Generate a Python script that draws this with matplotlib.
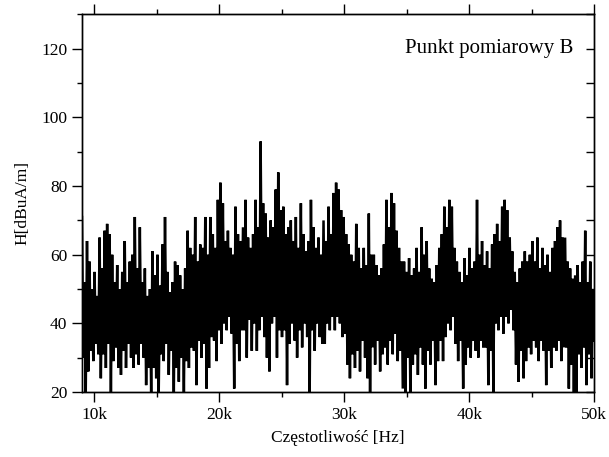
import numpy as np
import matplotlib.pyplot as plt
from matplotlib.ticker import MultipleLocator, FuncFormatter

# frequency range of the measurement [Hz]
f_start = 9000
f_stop = 50000

# local maxima and minima of the spectrum [dBuA/m],
# in order of frequency (each peak is followed by a dip)
peaks = [
    71, 52, 64, 58, 50, 55, 48, 65, 56, 67, 69, 66, 60, 52, 57, 50,
    55, 64, 52, 58, 60, 71, 56, 68, 52, 56, 48, 50, 61, 54, 60, 51,
    63, 71, 55, 49, 52, 58, 57, 54, 50, 56, 67, 62, 60, 71, 58, 63,
    62, 71, 60, 71, 66, 62, 76, 81, 75, 64, 67, 62, 60, 74, 66, 64,
    68, 76, 65, 62, 66, 76, 68, 93, 75, 72, 65, 70, 68, 79, 84, 73,
    74, 66, 68, 70, 64, 71, 62, 75, 66, 61, 64, 76, 68, 62, 65, 60,
    70, 64, 74, 66, 78, 81, 79, 73, 71, 66, 63, 60, 58, 69, 62, 56,
    62, 57, 72, 60, 60, 57, 54, 56, 63, 76, 68, 78, 75, 67, 62, 58,
    58, 55, 59, 54, 56, 62, 55, 68, 60, 64, 56, 53, 52, 57, 62, 66,
    74, 68, 76, 74, 62, 58, 55, 52, 59, 54, 62, 56, 58, 76, 60, 64,
    57, 61, 56, 63, 66, 69, 64, 74, 76, 73, 65, 61, 55, 52, 56, 58,
    61, 58, 60, 64, 58, 65, 56, 62, 57, 60, 55, 62, 64, 68, 70, 65,
    65, 58, 56, 53, 54, 57, 52, 58, 67, 52, 58, 50,
]
dips = [
    30, 20, 26, 32, 29, 34, 31, 24, 31, 27, 34, 20, 29, 33, 27, 25,
    32, 27, 34, 30, 27, 31, 28, 34, 30, 22, 27, 20, 27, 24, 20, 31,
    29, 34, 25, 32, 20, 27, 23, 30, 20, 29, 27, 33, 32, 22, 35, 30,
    34, 21, 27, 36, 35, 29, 38, 34, 40, 38, 42, 37, 21, 34, 29, 38,
    38, 30, 41, 32, 40, 32, 38, 42, 36, 30, 26, 40, 42, 30, 38, 36,
    38, 22, 34, 40, 35, 30, 38, 33, 40, 36, 20, 38, 32, 40, 36, 34,
    34, 40, 38, 42, 38, 42, 40, 36, 37, 28, 24, 31, 27, 32, 26, 35,
    30, 24, 20, 33, 28, 35, 26, 31, 33, 28, 35, 31, 37, 29, 32, 21,
    20, 30, 20, 28, 31, 25, 33, 28, 21, 32, 28, 35, 22, 29, 35, 29,
    36, 40, 38, 42, 34, 29, 35, 21, 28, 33, 30, 35, 32, 30, 35, 33,
    33, 22, 32, 20, 40, 38, 42, 37, 42, 40, 44, 38, 28, 23, 32, 24,
    29, 33, 31, 35, 33, 29, 35, 32, 22, 32, 27, 33, 32, 35, 29, 33,
    33, 21, 28, 20, 20, 31, 27, 33, 22, 31, 24, 35,
]

H = np.ravel(np.column_stack([peaks, dips]))
freq = np.linspace(f_start, f_stop, len(H))

plt.rcParams['font.family'] = ['Liberation Serif', 'DejaVu Serif']

fig = plt.figure(figsize=(6.09, 4.57), dpi=100)
ax = fig.add_axes([0.1346, 0.1422, 0.8408, 0.8261])
ax.plot(freq, H, color='black', lw=1.8, solid_joinstyle='miter')

ax.set_xlim(f_start, f_stop)
ax.set_ylim(20, 130)
ax.xaxis.set_major_locator(MultipleLocator(10000))
ax.xaxis.set_minor_locator(MultipleLocator(5000))
ax.xaxis.set_major_formatter(FuncFormatter(lambda v, p: '%dk' % (v / 1000)))
ax.yaxis.set_major_locator(MultipleLocator(20))
ax.yaxis.set_minor_locator(MultipleLocator(10))

ax.tick_params(axis='x', which='both', direction='out', top=True, width=1, labelsize=12.5)
ax.tick_params(axis='y', which='both', direction='out', width=1, labelsize=12.5)
ax.tick_params(which='major', length=7)
ax.tick_params(which='minor', length=3.5)

# right axis has inward ticks
ax2 = ax.twinx()
ax2.set_ylim(20, 130)
ax2.yaxis.set_major_locator(MultipleLocator(20))
ax2.yaxis.set_minor_locator(MultipleLocator(10))
ax2.tick_params(axis='y', which='both', direction='in', length=6, width=1, labelright=False)

for a in (ax, ax2):
    for s in a.spines.values():
        s.set_linewidth(1.0)

ax.set_xlabel('Częstotliwość [Hz]', fontsize=12.5, labelpad=5)
ax.set_ylabel('H[dBuA/m]', fontsize=12.5, labelpad=8)
ax.text(0.959, 0.91, 'Punkt pomiarowy B', transform=ax.transAxes,
        ha='right', va='center', fontsize=15)

fig.savefig('out.png', dpi=100)
